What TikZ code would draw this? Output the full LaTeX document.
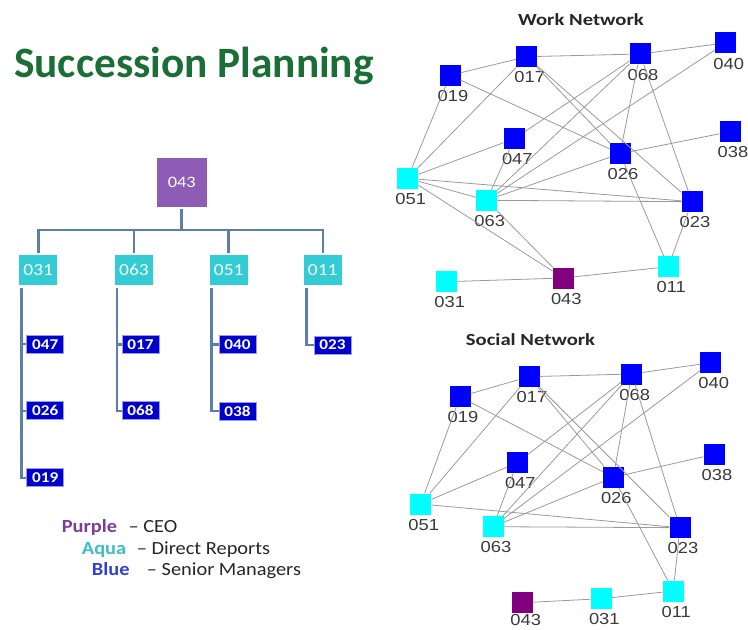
\documentclass[tikz,border=0pt]{standalone}
\usepackage{fontspec}
\setmainfont{Carlito}
\newfontfamily\labfont[FakeStretch=1.15]{Liberation Sans}
\newfontfamily\netttl[FakeStretch=1.22]{Carlito}
\newfontfamily\legfont[FakeStretch=1.1]{Carlito}
\newfontfamily\orgfont[FakeStretch=1.15]{Carlito}
\definecolor{orgpurple}{HTML}{8E5BB5}
\definecolor{orgaqua}{HTML}{33CCD4}
\definecolor{orgblue}{HTML}{0000CC}
\definecolor{orgblueedge}{HTML}{9A9AF0}
\definecolor{orgln}{HTML}{5B7FA6}
\definecolor{netblue}{HTML}{0000FF}
\definecolor{netaqua}{HTML}{00FFFF}
\definecolor{netpurple}{HTML}{800080}
\definecolor{titlegreen}{HTML}{1B6E36}
\definecolor{labgray}{HTML}{3A3A3A}
\definecolor{edgegray}{HTML}{9A9A9A}
\definecolor{legpurple}{HTML}{7D3C98}
\definecolor{legaqua}{HTML}{3CC0C8}
\definecolor{legblue}{HTML}{2E3FD8}
\begin{document}
\begin{tikzpicture}[x=1bp,y=-1bp,
  orgtop/.style={rectangle, fill=orgpurple, minimum width=50bp, minimum height=48bp, inner sep=0, text=white, font=\orgfont\fontsize{16}{18}\selectfont},
  orgdr/.style={rectangle, fill=orgaqua, minimum width=38bp, minimum height=30bp, inner sep=0, text=white, font=\orgfont\fontsize{17}{19}\selectfont},
  orgsm/.style={rectangle, fill=orgblue, draw=orgblueedge, line width=0.8bp, minimum width=37bp, minimum height=18bp, inner sep=0, text=white, font=\orgfont\bfseries\fontsize{15}{17}\selectfont},
  orgline/.style={draw=orgln, line width=2.5bp},
  sq/.style={rectangle, fill=#1, minimum size=21bp, inner sep=0},
  lab/.style={font=\labfont\fontsize{16}{16}\selectfont, text=labgray, inner sep=0, xshift=3bp},
  label distance=4bp,
  edge/.style={draw=edgegray, line width=0.8bp},
  nettitle/.style={font=\netttl\bfseries\fontsize{17}{20}\selectfont, text=black!85, inner sep=0},
  leg/.style={anchor=base west, inner sep=0, font=\legfont\fontsize{18.6}{20}\selectfont, text=black!85},
  legw/.style={leg, font=\legfont\bfseries\fontsize{18.6}{20}\selectfont, text=#1}
]
\useasboundingbox (0,0) rectangle (748,630);

% ---------- Title ----------
\node[anchor=base west, inner sep=0, font=\bfseries\fontsize{43.5}{50}\selectfont, text=titlegreen] (title) at (14,78) {Succession Planning};

% ---------- Org chart ----------
\node[orgtop] (o043) at (181.7,182.5) {043};
\node[orgdr] (o031) at (38.3,270) {031};
\node[orgdr] (o063) at (134,270) {063};
\node[orgdr] (o051) at (228.7,270) {051};
\node[orgdr] (o011) at (322.8,270) {011};
\node[orgsm] (o047) at (45.3,344.2) {047};
\node[orgsm] (o026) at (45.3,410.8) {026};
\node[orgsm] (o019) at (45.3,477.8) {019};
\node[orgsm] (o017) at (140.5,344.5) {017};
\node[orgsm] (o068) at (140.5,410.8) {068};
\node[orgsm] (o040) at (237.5,344.5) {040};
\node[orgsm] (o038) at (237.5,411) {038};
\node[orgsm] (o023) at (332.5,345) {023};

\coordinate (bar) at (181.7,230);
\draw[orgline] ([yshift=-2bp]o043.south) -- (bar);
\draw[orgline] ([yshift=2bp]o031.north) |- (bar) -| ([yshift=2bp]o011.north);
\draw[orgline] ([yshift=2bp]o063.north) -- (o063.north |- bar);
\draw[orgline] ([yshift=2bp]o051.north) -- (o051.north |- bar);

\coordinate (t031) at ([xshift=2.4bp,yshift=-3bp]o031.south west);
\coordinate (t063) at ([xshift=2.3bp,yshift=-3bp]o063.south west);
\coordinate (t051) at ([xshift=2bp,yshift=-3bp]o051.south west);
\coordinate (t011) at ([xshift=2.9bp,yshift=-3bp]o011.south west);
\draw[orgline] (t031) |- (o019.west);
\draw[orgline] (o047.west) -- (o047.west -| t031);
\draw[orgline] (o026.west) -- (o026.west -| t031);
\draw[orgline] (t063) |- (o068.west);
\draw[orgline] (o017.west) -- (o017.west -| t063);
\draw[orgline] (t051) |- (o038.west);
\draw[orgline] (o040.west) -- (o040.west -| t051);
\draw[orgline] (t011) |- (o023.west);

% ---------- Legend ----------
\node[legw=legpurple] (lp) at (61.7,532.7) {Purple};
\node[leg] (lpd) at (128.3,532.7) {– CEO};
\node[legw=legaqua] (la) at (81.7,554.3) {Aqua};
\node[leg] (lad) at (136.7,554.3) {– Direct Reports};
\node[legw=legblue] (lb) at (91.7,575.3) {Blue};
\node[leg] (lbd) at (146.7,575.3) {– Senior Managers};

% ---------- Work Network ----------
\node[nettitle] (wtitle) at (581,20) {Work Network};
\node[sq=netblue, label={[lab,name=w017l]below:017}] (w017) at (526.7,56.7) {};
\node[sq=netblue, label={[lab,name=w068l]below:068}] (w068) at (640,54) {};
\node[sq=netblue, label={[lab,name=w040l]below:040}] (w040) at (725.7,43) {};
\node[sq=netblue, label={[lab,name=w019l]below:019}] (w019) at (450,75.3) {};
\node[sq=netblue, label={[lab,name=w047l]below:047}] (w047) at (514.3,138.7) {};
\node[sq=netblue, label={[lab,name=w038l]below:038}] (w038) at (730,131.7) {};
\node[sq=netblue, label={[lab,name=w026l]below:026}] (w026) at (620,153.7) {};
\node[sq=netaqua, label={[lab,name=w051l]below:051}] (w051) at (407.7,178.3) {};
\node[sq=netaqua, label={[lab,name=w063l]below:063}] (w063) at (486.7,200.3) {};
\node[sq=netblue, label={[lab,name=w023l]below:023}] (w023) at (692,201.7) {};
\node[sq=netaqua, label={[lab,name=w011l]below:011}] (w011) at (668.3,266.7) {};
\node[sq=netpurple, label={[lab,name=w043l]below:043}] (w043) at (563.3,278) {};
\node[sq=netaqua, label={[lab,name=w031l]below:031}] (w031) at (446.7,281.7) {};
\foreach \a/\b in {019/017,017/068,068/040,019/026,017/026,017/023,068/026,068/023,068/047,068/063,040/063,038/026,051/019,051/017,051/047,051/063,051/023,051/043,063/047,063/026,063/023,063/043,026/011,023/011,043/011,031/043}
  \draw[edge] (w\a) -- (w\b);

% ---------- Social Network ----------
\node[nettitle] (stitle) at (530.5,340) {Social Network};
\node[sq=netblue, label={[lab,name=s017l]below:017}] (s017) at (529,376.7) {};
\node[sq=netblue, label={[lab,name=s068l]below:068}] (s068) at (631.7,374) {};
\node[sq=netblue, label={[lab,name=s040l]below:040}] (s040) at (710.7,362.7) {};
\node[sq=netblue, label={[lab,name=s019l]below:019}] (s019) at (460,396.7) {};
\node[sq=netblue, label={[lab,name=s047l]below:047}] (s047) at (517.3,462.7) {};
\node[sq=netblue, label={[lab,name=s038l]below:038}] (s038) at (714,454.3) {};
\node[sq=netblue, label={[lab,name=s026l]below:026}] (s026) at (613.3,477.3) {};
\node[sq=netaqua, label={[lab,name=s051l]below:051}] (s051) at (420.7,504) {};
\node[sq=netaqua, label={[lab,name=s063l]below:063}] (s063) at (493,526.7) {};
\node[sq=netblue, label={[lab,name=s023l]below:023}] (s023) at (680,527.7) {};
\node[sq=netaqua, label={[lab,name=s011l]below:011}] (s011) at (673.3,591) {};
\node[sq=netaqua, label={[lab,name=s031l]below:031}] (s031) at (601.3,598.7) {};
\node[sq=netpurple, label={[lab,name=s043l,label distance=1bp]below:043}] (s043) at (522.7,602.7) {};
\foreach \a/\b in {019/017,017/068,068/040,019/026,017/026,017/023,068/026,068/023,068/047,068/063,040/063,038/026,051/019,051/017,051/047,051/023,063/047,063/026,063/023,026/011,023/011,043/031,031/011}
  \draw[edge] (s\a) -- (s\b);
\end{tikzpicture}
\end{document}
